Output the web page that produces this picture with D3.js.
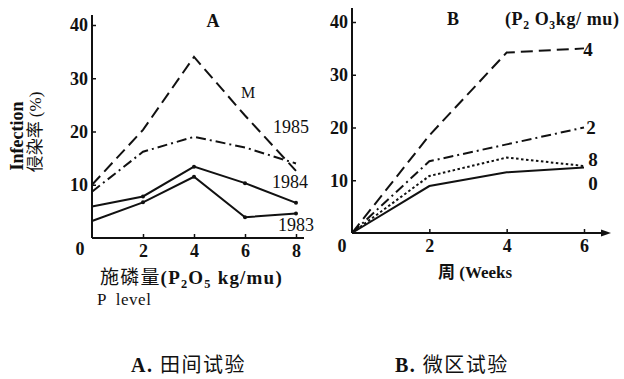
<!DOCTYPE html>
<html>
<head>
<meta charset="utf-8">
<script src="https://cdn.jsdelivr.net/npm/d3@7"></script>
<style>
  body { margin: 0; background: #fff; }
  svg { display: block; }
</style>
</head>
<body>
<svg id="chart" width="624" height="379"></svg>
<script>
// panel A: field trial, infection % vs P level
const pLevels = [0, 2, 4, 6, 8]
const seriesM = [10, 20.3, 34, 23, 12.6]
const series1985 = [8.7, 16.2, 19, 17, 14]
const series1984 = [5.9, 7.8, 13.4, 10.3, 6.6]
const series1983 = [3.2, 6.7, 11.5, 3.9, 4.6]

// panel B: micro-plot trial, infection % vs weeks
const weeks = [0, 2, 4, 6]
const seriesP4 = [0, 18.5, 34.2, 35]
const seriesP2 = [0, 13.6, 16.8, 20]
const seriesP8 = [0, 10.8, 14.3, 12.7]
const seriesP0 = [0, 8.9, 11.5, 12.4]

const yTicks = [10, 20, 30, 40]
const xTicksA = [2, 4, 6, 8]
const xTicksB = [2, 4, 6]

const svg = d3.select("#chart")
const ink = "#111"
const SERIF = "'Liberation Serif', 'DejaVu Serif', serif"
const CJK = "'Noto Sans CJK SC', sans-serif"

function drawLine(g, xs, ys, x, y, dash, dots) {
  const pts = xs.map((d, i) => [x(d), y(ys[i])])
  g.append("path")
    .attr("d", d3.line()(pts))
    .attr("fill", "none")
    .attr("stroke", ink)
    .attr("stroke-width", 2)
    .attr("stroke-dasharray", dash)
  if (dots) {
    g.selectAll(null).data(pts.slice(1)).enter().append("circle")
      .attr("cx", d => d[0]).attr("cy", d => d[1]).attr("r", 2).attr("fill", ink)
  }
}

function styleAxis(g) {
  g.attr("font-family", SERIF).attr("font-size", 18).attr("font-weight", "bold")
  g.select(".domain").attr("stroke", ink).attr("stroke-width", 2)
  g.selectAll(".tick line").attr("stroke", ink).attr("stroke-width", 1.5)
  g.selectAll(".tick text").attr("fill", ink)
}

function label(g, x, y, t, size, opts = {}) {
  return g.append("text").attr("x", x).attr("y", y)
    .attr("font-family", opts.family || SERIF)
    .attr("font-weight", opts.weight || "bold")
    .attr("font-size", size)
    .attr("text-anchor", opts.anchor || "middle")
    .attr("fill", ink)
    .text(t)
}

// subscript-aware title helper
function rich(g, x, y, parts, size, spacing) {
  const t = g.append("text").attr("x", x).attr("y", y).attr("font-size", size)
    .attr("fill", ink).attr("xml:space", "preserve")
    .attr("letter-spacing", spacing || 0)
  let shifted = false
  parts.forEach(p => {
    const s = t.append("tspan").text(p.t)
      .attr("font-family", p.cjk ? CJK : SERIF)
      .attr("font-weight", p.w || "bold")
    if (p.sub) { s.attr("font-size", size * 0.65).attr("dy", shifted ? 0 : 4); shifted = true }
    else if (shifted) { s.attr("dy", -4); shifted = false }
  })
  return t
}

// ---------- panel A ----------
const xA = d3.scaleLinear().domain([0, 8]).range([92, 296])
const yA = d3.scaleLinear().domain([0, 40]).range([238, 25])

const gA = svg.append("g")
const axAy = gA.append("g").attr("transform", "translate(92,0)")
  .call(d3.axisLeft(yA).tickValues(yTicks).tickSizeInner(-4).tickSizeOuter(0).tickPadding(4))
  .call(styleAxis)
axAy.select(".domain").attr("d", "M0,15V238")
gA.append("g").attr("transform", "translate(0,238)")
  .call(d3.axisBottom(xA).tickValues(xTicksA).tickFormat(d3.format("d"))
    .tickSizeInner(-4).tickSizeOuter(0).tickPadding(6))
  .call(styleAxis)
  .select(".domain").attr("d", "M92,0H304")
label(gA, 80, 255, "0", 18)

drawLine(gA, pLevels, seriesM, xA, yA, "12,6", false)
drawLine(gA, pLevels, series1985, xA, yA, "10,4,2,4", false)
drawLine(gA, pLevels, series1984, xA, yA, null, true)
drawLine(gA, pLevels, series1983, xA, yA, null, true)

label(gA, 213, 27, "A", 18)
label(gA, 248, 98, "M", 16, {weight: "normal"})
const yearLabels = [["1985", 291, 133], ["1984", 290, 188], ["1983", 296, 231]]
yearLabels.forEach(([t, x, y]) => label(gA, x, y, t, 18, {weight: "normal"}))

// y axis title
label(gA, 0, 0, "Infection", 18).attr("transform", "translate(23,136) rotate(-90)")
rich(gA, 0, 0, [{t: "侵染率", cjk: true, w: "normal"}, {t: " (%)", w: "normal"}], 17)
  .attr("text-anchor", "middle").attr("transform", "translate(41,132) rotate(-90)")

// x axis title
rich(gA, 100, 284, [
  {t: "施磷量", cjk: true, w: "normal"}, {t: "(P"}, {t: "2", sub: true},
  {t: "O"}, {t: "5", sub: true}, {t: " kg/mu)"}], 19, 1.2)
rich(gA, 97, 305, [{t: "P  level", w: "normal"}], 17, 0.5)

// ---------- panel B ----------
const xB = d3.scaleLinear().domain([0, 6]).range([352, 584])
const yB = d3.scaleLinear().domain([0, 40]).range([233, 22])

const gB = svg.append("g")
const axBy = gB.append("g").attr("transform", "translate(352,0)")
  .call(d3.axisLeft(yB).tickValues(yTicks).tickSizeInner(-4).tickSizeOuter(0).tickPadding(4))
  .call(styleAxis)
axBy.select(".domain").attr("d", "M0,8V233")
gB.append("g").attr("transform", "translate(0,233)")
  .call(d3.axisBottom(xB).tickValues(xTicksB).tickFormat(d3.format("d"))
    .tickSizeInner(-4).tickSizeOuter(0).tickPadding(6))
  .call(styleAxis)
  .select(".domain").attr("d", "M352,0H604")
gB.append("path").attr("d", "M601,-3.5L611,0L601,3.5Z").attr("transform", "translate(0,233)").attr("fill", ink)
label(gB, 342, 252, "0", 18)

drawLine(gB, weeks, seriesP4, xB, yB, "12,6", false)
drawLine(gB, weeks, seriesP2, xB, yB, "10,4,2,4", false)
drawLine(gB, weeks, seriesP8, xB, yB, "2.5,2.5", false)
drawLine(gB, weeks, seriesP0, xB, yB, null, false)

label(gB, 453, 25, "B", 18)
rich(gB, 505, 25, [{t: "(P"}, {t: "2", sub: true}, {t: " O"}, {t: "3", sub: true}, {t: "kg/ mu)"}], 18, 0.6)

const doseLabels = [["4", 588, 56], ["2", 591, 134], ["8", 593, 166], ["0", 593, 190]]
doseLabels.forEach(([t, x, y]) => label(gB, x, y, t, 19))

rich(gB, 438, 278, [{t: "周", cjk: true}, {t: " (Weeks"}], 17)

// ---------- captions ----------
rich(svg, 131, 372, [{t: "A. "}, {t: "田间试验", cjk: true, w: "normal"}], 20, 1.5)
rich(svg, 395, 372, [{t: "B. "}, {t: "微区试验", cjk: true, w: "normal"}], 20, 1.5)
</script>
</body>
</html>
